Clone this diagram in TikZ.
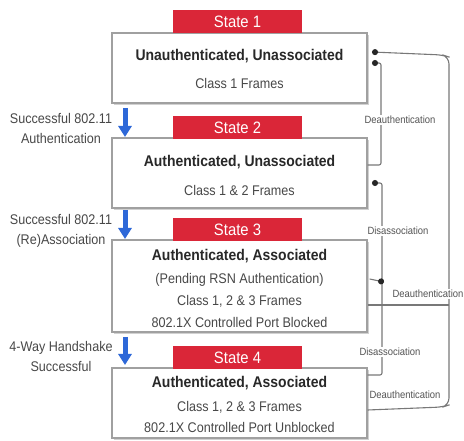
\documentclass[tikz,border=0pt]{standalone}
\usepackage{fontspec}
\setmainfont{Liberation Sans}[FakeStretch=0.9]
\usetikzlibrary{arrows.meta}
\definecolor{statered}{RGB}{218,38,56}
\definecolor{arrowblue}{RGB}{46,104,216}
\definecolor{boxline}{RGB}{160,160,160}
\definecolor{connline}{RGB}{120,120,120}
\definecolor{txt}{RGB}{40,40,40}
\tikzset{
  statebox/.style={draw=boxline, line width=1.3pt, fill=white, minimum width=255pt, inner sep=0pt},
  shadowbox/.style={fill=black!18, minimum width=255pt, inner sep=0pt},
  statetag/.style={fill=statered, text=white, minimum width=129pt, minimum height=23pt, inner sep=0pt, font=\fontsize{16.5}{18}\selectfont},
  titletext/.style={text=txt, font=\bfseries\fontsize{15.5}{18}\selectfont, inner sep=0pt},
  bodytext/.style={text=txt!85, font=\fontsize{14}{16}\selectfont, inner sep=0pt},
  sidetext/.style={text=txt!85, align=center, font=\fontsize{14}{20}\selectfont, inner sep=0pt},
  conn/.style={draw=connline, line width=1.1pt},
  dotend/.style={-{Circle[length=6pt,width=6pt,color=black!85,fill=black!85]}},
  linklabel/.style={text=txt!80, font=\fontsize{10.5}{12}\selectfont, inner sep=1pt},
  bluearrow/.style={draw=arrowblue, line width=5pt, -{Triangle[length=11pt,width=13pt]}}
}
\begin{document}
\begin{tikzpicture}[x=1pt,y=-1pt]
\useasboundingbox (0,0) rectangle (464,441);
\fill[white] (0,0) rectangle (464,441);
% shadows
\node[shadowbox, minimum height=70pt] at (241.5,70) {};
\node[shadowbox, minimum height=70pt] at (241.5,175) {};
\node[shadowbox, minimum height=92pt] at (241.5,288) {};
\node[shadowbox, minimum height=70pt] at (241.5,405) {};
% boxes
\node[statebox, minimum height=70pt] (b1) at (239.5,68) {};
\node[statebox, minimum height=70pt] (b2) at (239.5,173) {};
\node[statebox, minimum height=92pt] (b3) at (239.5,286) {};
\node[statebox, minimum height=70pt] (b4) at (239.5,403) {};
% tags
\node[statetag] (s1) at (237.5,21.5) {State 1};
\node[statetag] (s2) at (237.5,128) {State 2};
\node[statetag] (s3) at (237.5,229.5) {State 3};
\node[statetag] (s4) at (237.5,357.5) {State 4};
% texts
\node[titletext] (t1) at (239.5,56) {Unauthenticated, Unassociated};
\node[bodytext] (c1) at (239.5,83) {Class 1 Frames};
\node[titletext] (t2) at (239.5,162) {Authenticated, Unassociated};
\node[bodytext] (c2) at (239.5,190) {Class 1 \& 2 Frames};
\node[titletext] (t3) at (239.5,256) {Authenticated, Associated};
\node[bodytext] (p3) at (239.5,280) {(Pending RSN Authentication)};
\node[bodytext] (c3) at (239.5,301) {Class 1, 2 \& 3 Frames};
\node[bodytext] (x3) at (239.5,322) {802.1X Controlled Port Blocked};
\node[titletext] (t4) at (239.5,383) {Authenticated, Associated};
\node[bodytext] (c4) at (239.5,407) {Class 1, 2 \& 3 Frames};
\node[bodytext] (x4) at (239.5,427) {802.1X Controlled Port Unblocked};
% side labels
\node[sidetext] (l1) at (61,128) {Successful 802.11\\Authentication};
\node[sidetext] (l2) at (61,231) {Successful 802.11\\(Re)Association};
\node[sidetext] (l3) at (61,356) {4-Way Handshake\\Successful};
% blue arrows
\coordinate (a1s) at (125,108); \coordinate (a1e) at (125,137);
\coordinate (a2s) at (125,210); \coordinate (a2e) at (125,239);
\coordinate (a3s) at (125,337); \coordinate (a3e) at (125,365);
\draw[bluearrow] (a1s) -- (a1e);
\draw[bluearrow] (a2s) -- (a2e);
\draw[bluearrow] (a3s) -- (a3e);
% connector points
\coordinate (d1) at (372,52);
\coordinate (d2) at (372,63);
\coordinate (d3) at (372,183);
\coordinate (d4) at (384,282);
% outer deauthentication (state 4 -> state 1)
\draw[conn, dotend, rounded corners=7pt] (b4.east |- 0,410) -- (443,407) -- (449,405) -- (449,57) -- (443,55) -- (d1);
% state 3 deauthentication
\draw[conn] (b3.east |- 0,305) -- (449,305);
% state 2 -> state 1 deauthentication
\draw[conn, dotend, rounded corners=2pt] (b2.east |- 0,165) -- (381,165) -- (381,63) -- (d2);
% disassociation (state 4 -> state 2)
\draw[conn, dotend, rounded corners=2pt] (b4.east |- 0,375) -- (382,375) -- (382,183) -- (d3);
% state 3 disassociation join
\draw[conn, dotend] (b3.east |- 0,279) ++(2,0) -- (d4);
% link labels
\node[linklabel, fill=white] (k1) at (400,120) {Deauthentication};
\node[linklabel, fill=white] (k2) at (398,231) {Disassociation};
\node[linklabel, fill=white] (k3) at (428,294) {Deauthentication};
\node[linklabel, fill=white] (k4) at (390,352) {Disassociation};
\node[linklabel] (k5) at (405,395) {Deauthentication};
\end{tikzpicture}
\end{document}
